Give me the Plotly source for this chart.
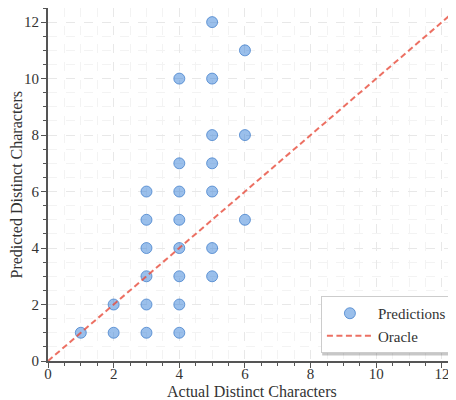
import plotly.graph_objects as go

# data
actual = [1, 2, 2, 3, 3, 3, 3, 3, 3,
          4, 4, 4, 4, 4, 4, 4, 4,
          5, 5, 5, 5, 5, 5, 5, 6, 6, 6]
predicted = [1, 1, 2, 1, 2, 3, 4, 5, 6,
             1, 2, 3, 4, 5, 6, 7, 10,
             3, 4, 6, 7, 8, 10, 12, 5, 8, 11]
oracle = [0, 12.6]
tick_vals = [0, 2, 4, 6, 8, 10, 12]
x_title = "Actual Distinct Characters"
y_title = "Predicted Distinct Characters"

FONT = "Liberation Serif"
TXT = "#333333"

fig = go.Figure()
fig.add_trace(go.Scatter(
    x=actual, y=predicted, mode="markers", name="Predictions",
    marker=dict(size=11, color="rgba(61,133,216,0.52)",
                line=dict(color="rgba(55,120,200,0.7)", width=1)),
))
fig.add_trace(go.Scatter(
    x=oracle, y=oracle, mode="lines", name="Oracle",
    line=dict(color="rgba(231,76,60,0.8)", width=2, dash="6px,3.5px"),
))

axis_common = dict(
    tickvals=tick_vals, ticks="outside", ticklen=5, tickwidth=1.2, tickcolor="#555",
    showline=True, linecolor="#555", linewidth=2, mirror=False,
    showgrid=True, gridcolor="#e8e8e8", griddash="dash", gridwidth=1,
    zeroline=False, automargin=False,
    tickfont=dict(family=FONT, size=15, color=TXT),
    minor=dict(dtick=0.5, tick0=0, ticks="outside", ticklen=3, tickcolor="#555",
               showgrid=True, gridcolor="#f3f3f3", griddash="dash", gridwidth=1),
)

fig.update_xaxes(range=[0, 12.43], ticklabelstandoff=-7, **axis_common)
fig.update_yaxes(range=[0, 12.5], ticklabelstandoff=-1, **axis_common)

# axis titles
fig.add_annotation(text=x_title, xref="paper", yref="paper", x=0.5, y=-0.086,
                   xanchor="center", yanchor="middle", showarrow=False,
                   font=dict(family=FONT, size=16, color=TXT))
fig.add_annotation(text=y_title, xref="paper", yref="paper", x=-0.076, y=0.5,
                   xanchor="center", yanchor="middle", showarrow=False, textangle=-90,
                   font=dict(family=FONT, size=16, color=TXT))

# legend shadow
fig.add_shape(type="rect", xref="paper", yref="paper",
              x0=0.672, x1=0.994, y0=0.0156, y1=0.14,
              fillcolor="rgba(0,0,0,0.22)", line=dict(width=0), layer="above")

fig.update_layout(
    width=448, height=392,
    margin=dict(l=40, r=0, t=0, b=39),
    plot_bgcolor="white", paper_bgcolor="white",
    font=dict(family=FONT, size=15, color=TXT),
    showlegend=True,
    legend=dict(x=0.99, y=0.0227, xanchor="right", yanchor="bottom",
                bgcolor="white", bordercolor="#cccccc", borderwidth=1,
                font=dict(family=FONT, size=15, color=TXT),
                itemwidth=46, tracegroupgap=0),
)

fig.write_html("out.html")
